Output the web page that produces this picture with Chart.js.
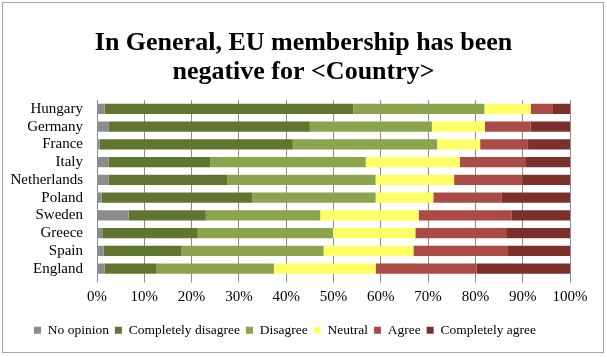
<!DOCTYPE html>
<html>
<head>
<meta charset="utf-8">
<script src="https://cdn.jsdelivr.net/npm/chart.js@4"></script>
<style>
  html, body { margin: 0; padding: 0; background: #fff; }
  #wrap { width: 607px; height: 357px; position: relative; }
</style>
</head>
<body>
<div id="wrap"><canvas id="c" width="607" height="357"></canvas></div>
<script>
const categories = ['Hungary', 'Germany', 'France', 'Italy', 'Netherlands', 'Poland', 'Sweden', 'Greece', 'Spain', 'England'];
const noOpinion = [1.6, 2.5, 0.6, 2.5, 2.5, 1.0, 6.7, 1.1, 1.4, 1.6];
const completelyDisagree = [52.6, 42.5, 40.8, 21.4, 25.0, 31.8, 16.3, 20.2, 16.5, 11.0];
const disagree = [27.7, 25.8, 30.5, 32.9, 31.4, 26.1, 24.2, 28.6, 30.0, 24.8];
const neutral = [9.8, 11.2, 9.1, 19.9, 16.6, 12.2, 20.8, 17.4, 19.0, 21.5];
const agree = [4.7, 9.7, 10.1, 14.0, 14.4, 14.5, 19.6, 19.2, 20.0, 21.4];
const completelyAgree = [3.6, 8.3, 8.9, 9.3, 10.1, 14.4, 12.4, 13.5, 13.1, 19.7];
const seriesNames = ['No opinion', 'Completely disagree', 'Disagree', 'Neutral', 'Agree', 'Completely agree'];
const xTicks = [0, 10, 20, 30, 40, 50, 60, 70, 80, 90, 100];
const titleLines = ['In General, EU membership has been', 'negative for <Country>'];

const colors = ['#8c8c8c', '#5f7530', '#8aa54d', '#ffff66', '#aa4b46', '#7b302c'];
const seriesData = [noOpinion, completelyDisagree, disagree, neutral, agree, completelyAgree];

const serif = '"Liberation Serif", "DejaVu Serif", serif';

const frame = {
  id: 'frame',
  beforeDraw(chart) {
    const ctx = chart.ctx;
    ctx.save();
    ctx.fillStyle = '#fff';
    ctx.fillRect(0, 0, chart.width, chart.height);
    ctx.strokeStyle = '#a6a6a6';
    ctx.lineWidth = 1;
    ctx.strokeRect(2.5, 2.5, 601, 350);
    ctx.restore();
  },
  afterDraw(chart) {
    const ctx = chart.ctx;
    ctx.save();
    ctx.fillStyle = '#000';
    ctx.font = 'bold 26px ' + serif;
    ctx.textAlign = 'center';
    ctx.textBaseline = 'middle';
    const ys = [43.5, 72.5];
    titleLines.forEach((t, i) => ctx.fillText(t, chart.width / 2, ys[i]));
    ctx.restore();
  }
};

new Chart(document.getElementById('c'), {
  type: 'bar',
  data: {
    labels: categories,
    datasets: seriesData.map((d, i) => ({
      label: seriesNames[i],
      data: d,
      backgroundColor: colors[i],
      borderWidth: 0,
      barPercentage: 0.58,
      categoryPercentage: 1.0
    }))
  },
  options: {
    indexAxis: 'y',
    responsive: false,
    animation: false,
    devicePixelRatio: 1,
    layout: { padding: { left: 0, right: 37, top: 100, bottom: 10 } },
    plugins: {
      title: { display: false },
      legend: {
        position: 'bottom',
        labels: {
          color: '#000',
          font: { family: serif, size: 13.5 },
          boxWidth: 7,
          boxHeight: 7,
          padding: 6
        }
      },
      tooltip: { enabled: false }
    },
    scales: {
      x: {
        stacked: true,
        min: 0,
        max: 100,
        afterBuildTicks(scale) { scale.ticks = xTicks.map(v => ({ value: v })); },
        afterFit(scale) { scale.height += 5; },
        ticks: {
          callback: v => v + '%',
          color: '#000',
          font: { family: serif, size: 15 },
          maxRotation: 0,
          padding: 6
        },
        grid: { color: '#8c8c8c', lineWidth: 1, drawTicks: true, tickLength: 5 },
        border: { display: false }
      },
      y: {
        stacked: true,
        afterFit(scale) { scale.width = 97; },
        ticks: {
          color: '#000',
          font: { family: serif, size: 15 },
          padding: 6,
          autoSkip: false
        },
        grid: { display: false },
        border: { display: true, color: '#8c8c8c', width: 1 }
      }
    }
  },
  plugins: [frame]
});
</script>
</body>
</html>
